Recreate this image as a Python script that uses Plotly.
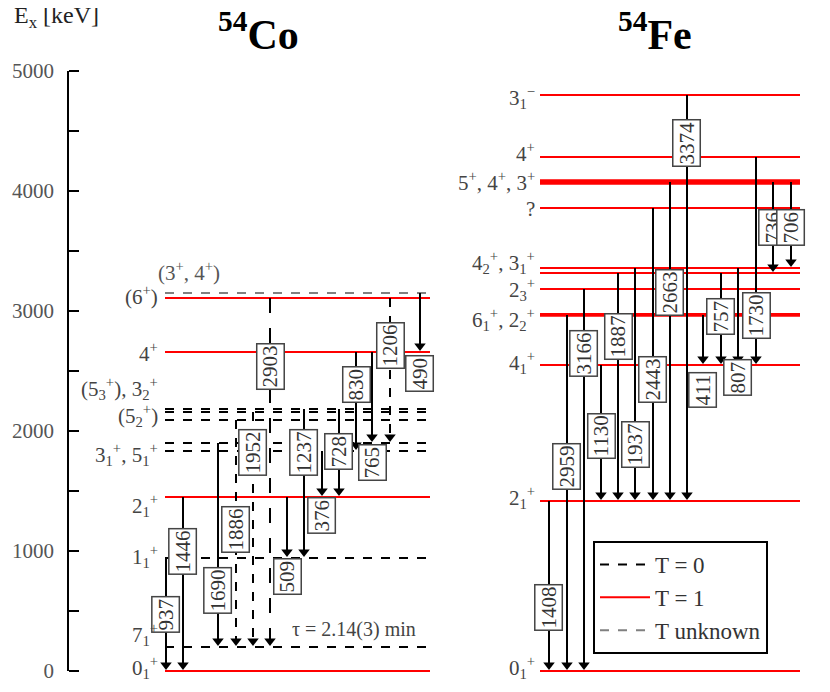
import plotly.graph_objects as go

# level energies [keV]
co_t0 = [200, 942, 1833, 1900, 2092, 2158, 2183]
co_t1 = [0, 1450, 2658, 3108]
co_tu = [3150]
fe_t1 = [0, 1417, 2550, 2960, 2975, 3183, 3317, 3358, 3858, 4060, 4075, 4090, 4283, 4800]

# transitions: label, from, to, x (px), label centre [keV], dash
co_gam = ["937", "1446", "1690", "1886", "1952", "2903", "509", "1237", "376", "728", "830", "765", "1206", "490"]
co_from = [942, 1450, 1900, 2092, 2158, 3108, 1450, 2183, 1833, 2183, 2658, 2658, 3108, 3150]
co_to = [0, 0, 200, 200, 200, 200, 942, 942, 1450, 1450, 1833, 1900, 1900, 2658]
co_x = [166, 183, 218, 236, 253, 270, 287, 304, 322, 339, 356, 372, 390, 420]
co_ly = [467, 992, 667, 1175, 1817, 2533, 783, 1817, 1292, 1825, 2383, 1733, 2708, 2475]
co_dash = ["solid", "solid", "solid", "dash", "dash", "longdash", "solid", "solid", "solid", "solid", "solid", "solid", "dash", "solid"]

fe_gam = ["1408", "2959", "3166", "1130", "1887", "1937", "2443", "2663", "3374", "411", "757", "807", "1730", "736", "706"]
fe_from = [1417, 2967, 3183, 2550, 3317, 3358, 3858, 4075, 4800, 2967, 3317, 3358, 4283, 4075, 4075]
fe_to = [0, 0, 0, 1417, 1417, 1417, 1417, 1417, 1417, 2550, 2550, 2550, 2550, 3317, 3358]
fe_x = [549, 567, 584, 601, 618, 635, 653, 670, 687, 703, 721, 738, 756, 773, 791]
fe_ly = [525, 1700, 2642, 1958, 2783, 1883, 2425, 3150, 4400, 2342, 2950, 2442, 2958, 3692, 3692]

co_lab = ["0<sub>1</sub><sup>+</sup>", "7<sub>1</sub><sup>+</sup>", "1<sub>1</sub><sup>+</sup>", "2<sub>1</sub><sup>+</sup>",
          "3<sub>1</sub><sup>+</sup>, 5<sub>1</sub><sup>+</sup>", "(5<sub>2</sub><sup>+</sup>)",
          "(5<sub>3</sub><sup>+</sup>), 3<sub>2</sub><sup>+</sup>", "4<sup>+</sup>", "(6<sup>+</sup>)"]
co_lab_e = [25, 300, 958, 1383, 1800, 2133, 2358, 2658, 3133]
fe_lab = ["0<sub>1</sub><sup>+</sup>", "2<sub>1</sub><sup>+</sup>", "4<sub>1</sub><sup>+</sup>",
          "6<sub>1</sub><sup>+</sup>, 2<sub>2</sub><sup>+</sup>", "2<sub>3</sub><sup>+</sup>",
          "4<sub>2</sub><sup>+</sup>, 3<sub>1</sub><sup>+</sup>", "?", "5<sup>+</sup>, 4<sup>+</sup>, 3<sup>+</sup>",
          "4<sup>+</sup>", "3<sub>1</sub><sup>−</sup>"]
fe_lab_e = [25, 1442, 2567, 2925, 3175, 3408, 3850, 4075, 4317, 4775]

SERIF = "Liberation Serif, DejaVu Serif, serif"
OFF = 8  # page margin of the html body
fig = go.Figure()


def levels(xs, es, color, dash, name, show):
    px, py = [], []
    for e in es:
        px += [xs[0], xs[1], None]
        py += [e, e, None]
    fig.add_trace(go.Scatter(x=px, y=py, mode="lines", name=name, showlegend=show,
                             line=dict(color=color, width=2, dash=dash)))


levels((165, 430), co_t0, "black", "dash", "T = 0", True)
levels((165, 430), co_t1, "red", "solid", "T = 1", True)
levels((165, 430), co_tu, "grey", "dash", "T unknown", True)
levels((540, 800), fe_t1, "red", "solid", "T = 1", False)


def gammas(gam, ef, et, xs, ly, dashes):
    for g, a, b, x, l, d in zip(gam, ef, et, xs, ly, dashes):
        fig.add_trace(go.Scatter(x=[x, x], y=[a, b + 60], mode="lines", showlegend=False,
                                 line=dict(color="black", width=2, dash=d)))
        fig.add_trace(go.Scatter(x=[x], y=[b + 50], mode="markers", showlegend=False,
                                 marker=dict(symbol="triangle-down", size=10, color="black")))
        fig.add_annotation(x=x, y=l, text=g, showarrow=False, textangle=-90,
                           bgcolor="white", bordercolor="#444", borderwidth=1.5, borderpad=1,
                           font=dict(family=SERIF, size=21, color="#333"))


gammas(co_gam, co_from, co_to, co_x, co_ly, co_dash)
gammas(fe_gam, fe_from, fe_to, fe_x, fe_ly, ["solid"] * len(fe_gam))

for t, e in zip(co_lab, co_lab_e):
    fig.add_annotation(x=160, y=e, text=t, showarrow=False, xanchor="right",
                       font=dict(family=SERIF, size=21, color="#444"))
for t, e in zip(fe_lab, fe_lab_e):
    fig.add_annotation(x=537, y=e, text=t, showarrow=False, xanchor="right",
                       font=dict(family=SERIF, size=21, color="#444"))
fig.add_annotation(x=156, y=3330, text="(3<sup>+</sup>, 4<sup>+</sup>)", showarrow=False, xanchor="left",
                   font=dict(family=SERIF, size=21, color="#555"))
fig.add_annotation(x=290, y=342, text="τ = 2.14(3) min", showarrow=False, xanchor="left",
                   font=dict(family=SERIF, size=20, color="#444"))

# y axis line
fig.add_shape(type="line", x0=68, x1=68, y0=0, y1=5000, line=dict(color="black", width=2))
fig.add_annotation(x=12, y=5450, text="E<sub>x</sub> [keV]", showarrow=False, xanchor="left",
                   font=dict(family=SERIF, size=24, color="#222"))
fig.add_annotation(x=258, y=5330, text="<b><sup>54</sup>Co</b>", showarrow=False,
                   font=dict(family=SERIF, size=42, color="black"))
fig.add_annotation(x=655, y=5330, text="<b><sup>54</sup>Fe</b>", showarrow=False,
                   font=dict(family=SERIF, size=42, color="black"))

tv = list(range(0, 5001, 500))
tt = [str(v) if v % 1000 == 0 else "" for v in tv]
fig.update_layout(
    width=830, height=692, margin=dict(l=0, r=0, t=0, b=0),
    plot_bgcolor="white", paper_bgcolor="white",
    xaxis=dict(range=[OFF, 830 + OFF], visible=False),
    yaxis=dict(range=[-242, 5525], anchor="free", position=(68 - OFF) / 830, tickvals=tv, ticktext=tt,
               ticks="inside", ticklen=10, tickwidth=1.5, tickcolor="black", showgrid=False,
               zeroline=False, showline=False, ticklabelstandoff=14,
               tickfont=dict(family=SERIF, size=21, color="#555")),
    legend=dict(x=(593 - OFF) / 830, y=1 - (541 - OFF) / 692, xanchor="left", yanchor="top",
                bordercolor="black", borderwidth=2, bgcolor="white",
                font=dict(family=SERIF, size=23, color="#333"), itemwidth=50),
)
fig.write_html("out.html")
